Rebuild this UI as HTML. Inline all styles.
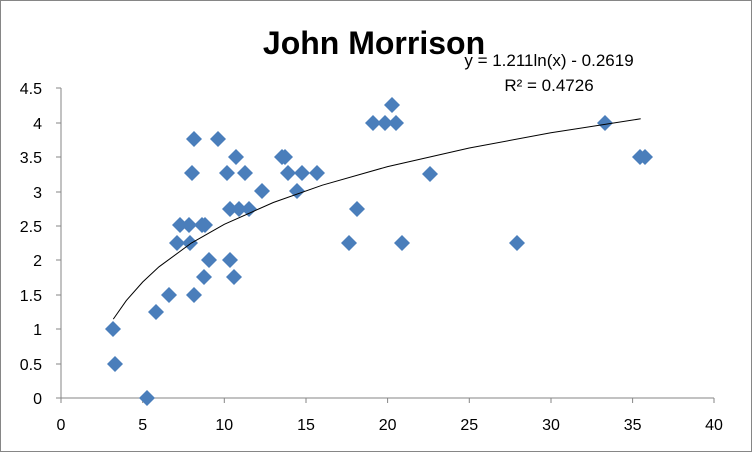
<!DOCTYPE html>
<html><head><style>body{margin:0;background:#fff}svg{display:block;font-family:"Liberation Sans",sans-serif}</style></head>
<body>
<svg width="752" height="452" viewBox="0 0 752 452">
<rect x="0.5" y="0.5" width="751" height="451" fill="#fff" stroke="#868686"/>
<text x="374" y="54" font-size="32" font-weight="bold" text-anchor="middle" fill="#000">John Morrison</text>
<g stroke="#868686" stroke-width="1">
<line x1="61" y1="88" x2="61" y2="398"/>
<line x1="61" y1="398" x2="714" y2="398"/>
<line x1="56" y1="88" x2="61" y2="88"/><line x1="56" y1="123" x2="61" y2="123"/><line x1="56" y1="157" x2="61" y2="157"/><line x1="56" y1="192" x2="61" y2="192"/><line x1="56" y1="226" x2="61" y2="226"/><line x1="56" y1="260" x2="61" y2="260"/><line x1="56" y1="295" x2="61" y2="295"/><line x1="56" y1="329" x2="61" y2="329"/><line x1="56" y1="364" x2="61" y2="364"/><line x1="56" y1="398" x2="61" y2="398"/>
<line x1="61" y1="398" x2="61" y2="403"/><line x1="142.7" y1="398" x2="142.7" y2="403"/><line x1="224.3" y1="398" x2="224.3" y2="403"/><line x1="306" y1="398" x2="306" y2="403"/><line x1="387.6" y1="398" x2="387.6" y2="403"/><line x1="469.3" y1="398" x2="469.3" y2="403"/><line x1="551" y1="398" x2="551" y2="403"/><line x1="632.6" y1="398" x2="632.6" y2="403"/><line x1="714" y1="398" x2="714" y2="403"/>
</g>
<g font-size="16" text-anchor="end" fill="#000">
<text x="42" y="94">4.5</text><text x="42" y="129">4</text><text x="42" y="163">3.5</text><text x="42" y="198">3</text><text x="42" y="232">2.5</text><text x="42" y="266">2</text><text x="42" y="301">1.5</text><text x="42" y="335">1</text><text x="42" y="370">0.5</text><text x="42" y="404">0</text>
</g>
<g font-size="16" text-anchor="middle" fill="#000">
<text x="61" y="430">0</text><text x="142.7" y="430">5</text><text x="224.3" y="430">10</text><text x="306" y="430">15</text><text x="387.6" y="430">20</text><text x="469.3" y="430">25</text><text x="551" y="430">30</text><text x="632.6" y="430">35</text><text x="714" y="430">40</text>
</g>
<defs><path id="d" d="M0,-8L8,0L0,8L-8,0Z" fill="#4a7ebb"/></defs>
<g>
<use href="#d" x="113" y="329"/><use href="#d" x="115" y="364"/><use href="#d" x="147" y="398"/><use href="#d" x="156" y="312"/><use href="#d" x="169" y="295"/><use href="#d" x="194" y="295"/><use href="#d" x="204" y="277"/><use href="#d" x="209" y="260"/><use href="#d" x="230" y="260"/><use href="#d" x="234" y="277"/><use href="#d" x="177" y="243"/><use href="#d" x="190" y="243"/><use href="#d" x="349" y="243"/><use href="#d" x="180" y="225"/><use href="#d" x="189" y="225"/><use href="#d" x="202" y="225"/><use href="#d" x="205" y="225"/><use href="#d" x="230" y="209"/><use href="#d" x="239" y="209"/><use href="#d" x="249" y="209"/><use href="#d" x="357" y="209"/><use href="#d" x="262" y="191"/><use href="#d" x="297" y="191"/><use href="#d" x="192" y="173"/><use href="#d" x="227" y="173"/><use href="#d" x="245" y="173"/><use href="#d" x="288" y="173"/><use href="#d" x="302" y="173"/><use href="#d" x="317" y="173"/><use href="#d" x="236" y="157"/><use href="#d" x="282" y="157"/><use href="#d" x="285" y="157"/><use href="#d" x="194" y="139"/><use href="#d" x="218" y="139"/><use href="#d" x="373" y="123"/><use href="#d" x="385" y="123"/><use href="#d" x="396" y="123"/><use href="#d" x="392" y="105"/><use href="#d" x="430" y="174"/><use href="#d" x="517" y="243"/><use href="#d" x="402" y="243"/><use href="#d" x="605" y="123"/><use href="#d" x="640" y="157"/><use href="#d" x="645" y="157"/>
</g>
<polyline fill="none" stroke="#000" stroke-width="1" points="113.3,319.1 126.3,300.6 142.7,282 159,266.8 191.6,242.9 224.3,224.3 273.3,202.5 322.3,185.2 387.6,166.6 469.3,148 550.9,132.8 640.7,118.8"/>
<text x="549" y="66" font-size="17" text-anchor="middle" fill="#000">y = 1.211ln(x) - 0.2619</text>
<text x="549" y="91" font-size="17" text-anchor="middle" fill="#000">R² = 0.4726</text>
</svg>
</body></html>
